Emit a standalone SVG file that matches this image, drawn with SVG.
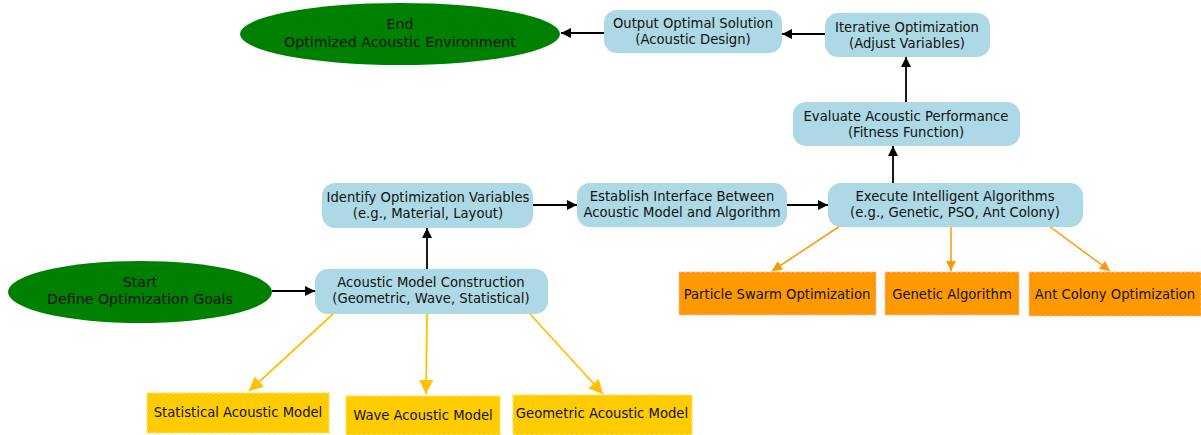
<svg xmlns="http://www.w3.org/2000/svg" width="1201" height="435" viewBox="0 0 1201 435">
<style>
text{font-family:"DejaVu Sans","Liberation Sans",sans-serif;font-size:13.2px;fill:#111;text-anchor:middle;dominant-baseline:middle}
.big{font-size:14.2px}
.blue{fill:#add8e6}
.green{fill:#008000}
.orange{fill:#ff9900;stroke:#ffb6c1;stroke-width:1;stroke-dasharray:3,2}
.yellow{fill:#ffcc00;stroke:#ffe066;stroke-width:1.5;stroke-dasharray:3,2}
.k{stroke:#000;stroke-width:1.8;fill:none}
.y{stroke:#ffc000;stroke-width:1.8;fill:none}
.o{stroke:#ff9900;stroke-width:1.5;fill:none}
</style>
<defs>
<marker id="ak" viewBox="0 0 10 10" refX="10" refY="5" markerWidth="13" markerHeight="10" markerUnits="userSpaceOnUse" orient="auto"><path d="M0,0L10,5L0,10z" fill="#000"/></marker>
<marker id="ay" viewBox="0 0 10 10" refX="10" refY="5" markerWidth="16" markerHeight="14" markerUnits="userSpaceOnUse" orient="auto"><path d="M0,0L10,5L0,10z" fill="#ffc000"/></marker>
<marker id="ao" viewBox="0 0 10 10" refX="10" refY="5" markerWidth="12" markerHeight="10" markerUnits="userSpaceOnUse" orient="auto"><path d="M0,0L10,5L0,10z" fill="#ff9900"/></marker>
</defs>
<g id="connectors">
<line class="k" x1="272" y1="291" x2="315" y2="291" marker-end="url(#ak)"/>
<line class="k" x1="427" y1="269" x2="427" y2="228" marker-end="url(#ak)"/>
<line class="k" x1="533" y1="205" x2="577" y2="205" marker-end="url(#ak)"/>
<line class="k" x1="787" y1="205" x2="828" y2="205" marker-end="url(#ak)"/>
<line class="k" x1="893" y1="183" x2="893" y2="146" marker-end="url(#ak)"/>
<line class="k" x1="906" y1="102" x2="906" y2="57" marker-end="url(#ak)"/>
<line class="k" x1="825" y1="34" x2="782" y2="34" marker-end="url(#ak)"/>
<line class="k" x1="604" y1="33" x2="561" y2="33" marker-end="url(#ak)"/>
<line class="y" x1="333" y1="314" x2="249" y2="391" marker-end="url(#ay)"/>
<line class="y" x1="427" y1="314" x2="426" y2="394" marker-end="url(#ay)"/>
<line class="y" x1="530" y1="314" x2="603" y2="394" marker-end="url(#ay)"/>
<line class="o" x1="840" y1="226" x2="772" y2="271" marker-end="url(#ao)"/>
<line class="o" x1="951" y1="227" x2="951" y2="271" marker-end="url(#ao)"/>
<line class="o" x1="1049" y1="226" x2="1110" y2="271" marker-end="url(#ao)"/>
</g>
<g id="start"><ellipse class="green" cx="140" cy="292" rx="132" ry="31"/><text class="big" x="140" y="283">Start</text><text class="big" x="140" y="300">Define Optimization Goals</text></g>
<g id="amc"><rect class="blue" x="315" y="269" width="233" height="45" rx="13"/><text x="431" y="283">Acoustic Model Construction</text><text x="431" y="299">(Geometric, Wave, Statistical)</text></g>
<g id="identify"><rect class="blue" x="322" y="183" width="211" height="45" rx="13"/><text x="428" y="198">Identify Optimization Variables</text><text x="428" y="214">(e.g., Material, Layout)</text></g>
<g id="establish"><rect class="blue" x="577" y="183" width="210" height="44" rx="13"/><text x="682" y="197">Establish Interface Between</text><text x="682" y="213">Acoustic Model and Algorithm</text></g>
<g id="execute"><rect class="blue" x="828" y="183" width="255" height="44" rx="13"/><text x="955" y="197">Execute Intelligent Algorithms</text><text x="955" y="213">(e.g., Genetic, PSO, Ant Colony)</text></g>
<g id="evaluate"><rect class="blue" x="793" y="102" width="227" height="44" rx="13"/><text x="906" y="117">Evaluate Acoustic Performance</text><text x="906" y="133">(Fitness Function)</text></g>
<g id="iterative"><rect class="blue" x="825" y="13" width="165" height="44" rx="13"/><text x="907" y="28">Iterative Optimization</text><text x="907" y="44">(Adjust Variables)</text></g>
<g id="output"><rect class="blue" x="604" y="10" width="178" height="43" rx="13"/><text x="693" y="24">Output Optimal Solution</text><text x="693" y="40">(Acoustic Design)</text></g>
<g id="end"><ellipse class="green" cx="400" cy="34" rx="160" ry="31"/><text class="big" x="400" y="25">End</text><text class="big" x="400" y="43">Optimized Acoustic Environment</text></g>
<g id="pso"><rect class="orange" x="679" y="272" width="197" height="43"/><text x="777" y="295">Particle Swarm Optimization</text></g>
<g id="ga"><rect class="orange" x="885" y="272" width="134" height="43"/><text x="952" y="295">Genetic Algorithm</text></g>
<g id="aco"><rect class="orange" x="1029" y="272" width="172" height="44"/><text x="1115" y="295">Ant Colony Optimization</text></g>
<g id="stat"><rect class="yellow" x="147" y="393" width="182" height="40"/><text x="238" y="413">Statistical Acoustic Model</text></g>
<g id="wave"><rect class="yellow" x="346" y="396" width="154" height="39"/><text x="423" y="416">Wave Acoustic Model</text></g>
<g id="geo"><rect class="yellow" x="513" y="395" width="179" height="40"/><text x="602" y="414">Geometric Acoustic Model</text></g>
</svg>
